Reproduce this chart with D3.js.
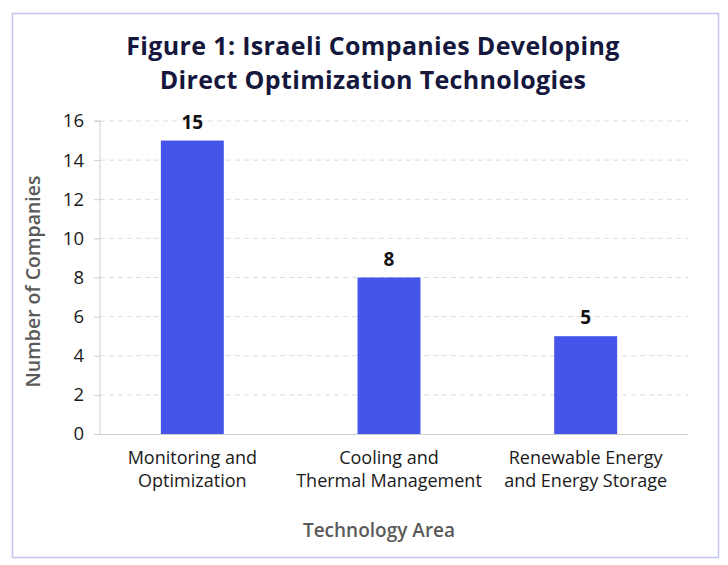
<!DOCTYPE html>
<html>
<head>
<meta charset="utf-8">
<script src="https://cdn.jsdelivr.net/npm/d3@7"></script>
<style>
  body { margin: 0; background: #fff; }
  svg text { font-family: "Open Sans", "Noto Sans", sans-serif; }
</style>
</head>
<body>
<div class="visholder"></div>
<script>
// data
const titleLines = ["Figure 1: Israeli Companies Developing", "Direct Optimization Technologies"];
const categories = ["Monitoring and\nOptimization", "Cooling and\nThermal Management", "Renewable Energy\nand Energy Storage"];
const companies = [15, 8, 5];
const yTicks = [0, 2, 4, 6, 8, 10, 12, 14, 16];

const width = 728, height = 565;
const plotLeft = 100, plotRight = 688, plotTop = 121, plotBottom = 434;

let svg = d3.select(".visholder").append("svg")
    .attr("width", width)
    .attr("height", height);

// frame
svg.append("rect")
    .attr("x", 12.5).attr("y", 13.5)
    .attr("width", 706).attr("height", 544)
    .attr("fill", "#fff")
    .attr("stroke", "#c3c4ef")
    .attr("stroke-width", 1.5);

// title
titleLines.forEach((line, j) => {
    svg.append("text")
        .attr("x", 373).attr("y", 55 + j * 34)
        .attr("text-anchor", "middle")
        .style("font-size", "25px").style("font-weight", "700")
        .style("letter-spacing", "0.35px")
        .attr("fill", "#15173d")
        .text(line);
});

// scales
let xScale = d3.scaleBand().domain(categories).range([94, 684]).paddingInner(0.68).paddingOuter(0.34);
let yScale = d3.scaleLinear().domain([0, 16]).range([plotBottom, plotTop]);

// grid
svg.append("g").selectAll("line").data(yTicks.slice(1)).enter().append("line")
    .attr("x1", plotLeft).attr("x2", plotRight)
    .attr("y1", d => yScale(d)).attr("y2", d => yScale(d))
    .attr("stroke", "#dcdcdc")
    .attr("stroke-dasharray", "5,4");

// y axis
let yAxis = d3.axisLeft(yScale).tickValues(yTicks).tickSize(6).tickPadding(10);
let gy = svg.append("g").attr("transform", `translate(${plotLeft},0)`).call(yAxis);
gy.select(".domain").attr("stroke", "#cfcfcf").attr("d", `M-6,${plotTop}H0V${plotBottom}`);
gy.selectAll(".tick line").attr("stroke", "#cfcfcf");
gy.selectAll(".tick text").style("font-size", "18.5px").attr("fill", "#1a1a1a");

// x axis line
svg.append("line")
    .attr("x1", 94).attr("x2", plotRight)
    .attr("y1", plotBottom + 0.5).attr("y2", plotBottom + 0.5)
    .attr("stroke", "#cfcfcf");

// bars
svg.append("g").selectAll("rect").data(companies).enter().append("rect")
    .attr("x", (d, i) => xScale(categories[i]))
    .attr("y", d => yScale(d))
    .attr("width", xScale.bandwidth())
    .attr("height", d => plotBottom - yScale(d))
    .attr("fill", "#4655e9");

// value labels
svg.append("g").selectAll("text").data(companies).enter().append("text")
    .attr("x", (d, i) => xScale(categories[i]) + xScale.bandwidth() / 2)
    .attr("y", d => yScale(d) - 12)
    .attr("text-anchor", "middle")
    .style("font-size", "19px").style("font-weight", "700")
    .attr("fill", "#111")
    .text(d => d);

// category labels
categories.forEach(c => {
    let t = svg.append("text")
        .attr("text-anchor", "middle")
        .style("font-size", "18px")
        .attr("fill", "#1a1a1a");
    c.split("\n").forEach((line, j) => {
        t.append("tspan")
            .attr("x", xScale(c) + xScale.bandwidth() / 2)
            .attr("y", 463.5 + j * 23)
            .text(line);
    });
});

// axis titles
svg.append("text")
    .attr("x", 379).attr("y", 537)
    .attr("text-anchor", "middle")
    .style("font-size", "19px").style("font-weight", "600")
    .attr("fill", "#5a5a5a")
    .text("Technology Area");
svg.append("text")
    .attr("transform", `translate(40,${(plotTop + plotBottom) / 2 + 4}) rotate(-90)`)
    .attr("text-anchor", "middle")
    .style("font-size", "19.5px").style("font-weight", "600")
    .attr("fill", "#5a5a5a")
    .text("Number of Companies");
</script>
</body>
</html>
